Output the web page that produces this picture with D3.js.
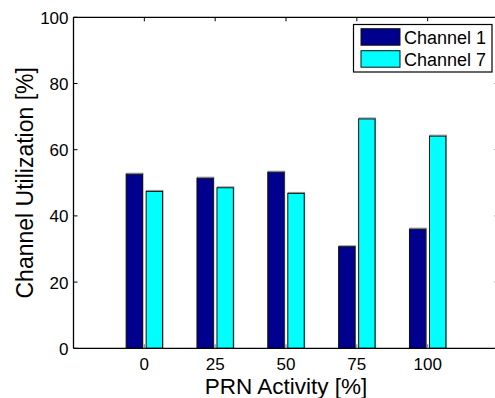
<!DOCTYPE html>
<html>
<head>
<meta charset="utf-8">
<script src="https://cdn.jsdelivr.net/npm/d3@7"></script>
<style>
  html, body { margin: 0; padding: 0; background: #fff; overflow: hidden; }
  svg { display: block; font-family: "Liberation Sans", Arial, Helvetica, sans-serif; }
</style>
</head>
<body>
<svg id="chart" width="495" height="398"></svg>
<script>
// ---- data ----
const categories = [0, 25, 50, 75, 100];
const seriesNames = ["Channel 1", "Channel 7"];
const channel1 = [52.6, 51.4, 53.2, 30.7, 36.0];
const channel7 = [47.4, 48.5, 46.8, 69.3, 64.1];
const yTicks = [0, 20, 40, 60, 80, 100];
const xTickLabels = ["0", "25", "50", "75", "100"];
const colors = ["#00008F", "#00FFFF"];

(function () {
const svg = d3.select("#chart");
const pL = 73.5, pR = 498.5, pT = 17.3, pB = 348.3;

const x = d3.scaleLinear().domain([-25, 125]).range([pL, pR]);
const y = d3.scaleLinear().domain([0, 100]).range([pB, pT]);
const inner = d3.scaleBand().domain(seriesNames).range([-18.2, 18.2]).paddingInner(0.18);

const data = categories.map((c, i) => ({ cat: c, values: [channel1[i], channel7[i]] }));

// bars
const groups = svg.append("g").selectAll("g").data(data).join("g")
  .attr("transform", d => `translate(${x(d.cat)},0)`);
groups.selectAll("rect.shadow").data(d => d.values).join("rect")
  .attr("class", "shadow")
  .attr("x", (v, j) => inner(seriesNames[j]) + 0.5)
  .attr("y", v => y(v) - 1)
  .attr("width", inner.bandwidth())
  .attr("height", v => pB - y(v) + 1)
  .attr("fill", "none")
  .attr("stroke", "#999")
  .attr("stroke-width", 1);
groups.selectAll("rect.bar").data(d => d.values).join("rect")
  .attr("class", "bar")
  .attr("x", (v, j) => inner(seriesNames[j]))
  .attr("y", v => y(v))
  .attr("width", inner.bandwidth())
  .attr("height", v => pB - y(v))
  .attr("fill", (v, j) => colors[j])
  .attr("stroke", "#111")
  .attr("stroke-width", 1);

// axes (inward ticks); the right edge of the box lies just beyond the picture
const tickLen = 4;
const axG = svg.append("g").attr("stroke", "#000").attr("fill", "none");
axG.append("line").attr("x1", pL).attr("x2", 495).attr("y1", pB).attr("y2", pB).attr("stroke-width", 1.3);
axG.append("line").attr("x1", pL).attr("x2", 495).attr("y1", pT).attr("y2", pT).attr("stroke-width", 1.3);
axG.append("line").attr("x1", pL).attr("x2", pL).attr("y1", pT).attr("y2", pB).attr("stroke-width", 1.3);

categories.forEach(c => {
  axG.append("line").attr("x1", x(c)).attr("x2", x(c)).attr("y1", pB).attr("y2", pB - tickLen).attr("stroke", "#777");
  axG.append("line").attr("x1", x(c)).attr("x2", x(c)).attr("y1", pT).attr("y2", pT + tickLen);
});
yTicks.forEach(t => {
  axG.append("line").attr("x1", pL).attr("x2", pL + tickLen).attr("y1", y(t)).attr("y2", y(t));
  axG.append("line").attr("x1", 495).attr("x2", pR - tickLen).attr("y1", y(t)).attr("y2", y(t)).attr("stroke", "#555");
});

// tick labels
svg.append("g").selectAll("text").data(categories).join("text")
  .attr("x", d => x(d)).attr("y", 370)
  .attr("text-anchor", "middle").attr("font-size", 17).attr("fill", "#000")
  .text((d, i) => xTickLabels[i]);
svg.append("g").selectAll("text").data(yTicks).join("text")
  .attr("x", 68.5).attr("y", d => y(d) + 6.5)
  .attr("text-anchor", "end").attr("font-size", 17).attr("fill", "#000")
  .text(d => d);

// axis titles
svg.append("text").attr("x", (pL + pR) / 2).attr("y", 393.5)
  .attr("text-anchor", "middle").attr("font-size", 22.5).attr("fill", "#000")
  .text("PRN Activity [%]");
svg.append("text")
  .attr("transform", `translate(32.5,${(pT + pB) / 2}) rotate(-90)`)
  .attr("text-anchor", "middle").attr("font-size", 23).attr("fill", "#000")
  .text("Channel Utilization [%]");

// legend
const lg = svg.append("g");
lg.append("rect").attr("x", 353.5).attr("y", 24.5).attr("width", 138.5).attr("height", 47.5)
  .attr("fill", "#fff").attr("stroke", "#000").attr("stroke-width", 1.2);
seriesNames.forEach((s, i) => {
  const yy = 28.7 + i * 22;
  lg.append("rect").attr("x", 361).attr("y", yy).attr("width", 39).attr("height", 16.5)
    .attr("fill", colors[i]).attr("stroke", "#111").attr("stroke-width", 1);
  lg.append("text").attr("x", 404).attr("y", yy + 15.3)
    .attr("font-size", 18).attr("fill", "#000").text(s);
});
})();
</script>
</body>
</html>
